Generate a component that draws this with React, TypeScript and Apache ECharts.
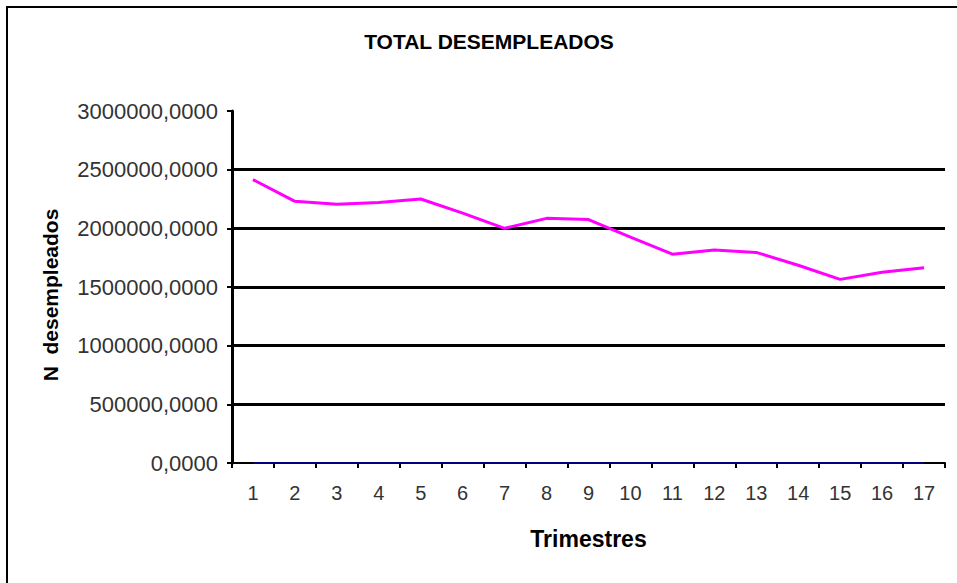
import React, { useEffect, useRef } from "react";
import * as echarts from "echarts";

const categories = ["1", "2", "3", "4", "5", "6", "7", "8", "9", "10", "11", "12", "13", "14", "15", "16", "17"];
const desempleados = [2415000, 2230000, 2205000, 2220000, 2250000, 2130000, 2000000, 2085000, 2075000, 1925000, 1780000, 1815000, 1795000, 1685000, 1565000, 1625000, 1665000];
const segundaSerie = [0, 0, 0, 0, 0, 0, 0, 0, 0, 0, 0, 0, 0, 0, 0, 0, 0];
const yTicks = { min: 0, max: 3000000, interval: 500000 };

export default function App() {
  const ref = useRef<HTMLDivElement>(null);
  useEffect(() => {
    if (!ref.current) return;
    const chart = echarts.init(ref.current, undefined, { renderer: "svg" });
    const font = "'Liberation Sans', Arial, Helvetica, sans-serif";
    chart.setOption({
      animation: false,
      backgroundColor: "#ffffff",
      title: {
        text: "TOTAL DESEMPLEADOS",
        left: 484,
        top: 26,
        textAlign: "center",
        textStyle: { fontFamily: font, fontSize: 21, fontWeight: "bold", color: "#000" },
      },
      graphic: [
        {
          type: "rect",
          shape: { x: 7, y: 7, width: 970, height: 600 },
          style: { fill: "none", stroke: "#000", lineWidth: 2 },
          silent: true,
        },
        {
          type: "text",
          x: 50,
          y: 295,
          rotation: Math.PI / 2,
          style: {
            text: "N  desempleados",
            fontFamily: font,
            fontSize: 21,
            fontWeight: "bold",
            fill: "#000",
            align: "center",
            verticalAlign: "middle",
          },
          silent: true,
        },
      ],
      grid: { left: 232, right: 12, top: 111, bottom: 120, containLabel: false },
      xAxis: {
        type: "category",
        data: categories,
        boundaryGap: true,
        name: "Trimestres",
        nameLocation: "middle",
        nameGap: 64,
        nameTextStyle: { fontFamily: font, fontSize: 23, fontWeight: "bold", color: "#000" },
        axisLine: { show: true, lineStyle: { color: "#000", width: 2 } },
        axisTick: { show: true, interval: 0, length: 5, lineStyle: { color: "#000", width: 2 } },
        axisLabel: { interval: 0, margin: 20, fontFamily: font, fontSize: 20, color: "#333" },
        splitLine: { show: false },
      },
      yAxis: {
        type: "value",
        min: yTicks.min,
        max: yTicks.max,
        interval: yTicks.interval,
        axisLine: { show: true, lineStyle: { color: "#000", width: 3 } },
        axisTick: { show: true, length: 5, lineStyle: { color: "#000", width: 2 } },
        axisLabel: {
          margin: 14,
          fontFamily: font,
          fontSize: 22,
          color: "#333",
          formatter: (v: number) => `${v},0000`,
        },
        splitLine: { show: true, showMinLine: false, showMaxLine: false, lineStyle: { color: "#000", width: 3 } },
      },
      series: [
        {
          type: "line",
          data: segundaSerie,
          showSymbol: false,
          symbol: "none",
          lineStyle: { color: "#000080", width: 2 },
          z: 3,
        },
        {
          type: "line",
          data: desempleados,
          showSymbol: false,
          symbol: "none",
          lineStyle: { color: "#ff00ff", width: 3 },
          z: 4,
        },
      ],
    });
    return () => chart.dispose();
  }, []);
  return <div ref={ref} style={{ position: "fixed", left: 0, top: 0, width: 957, height: 583 }} />;
}
